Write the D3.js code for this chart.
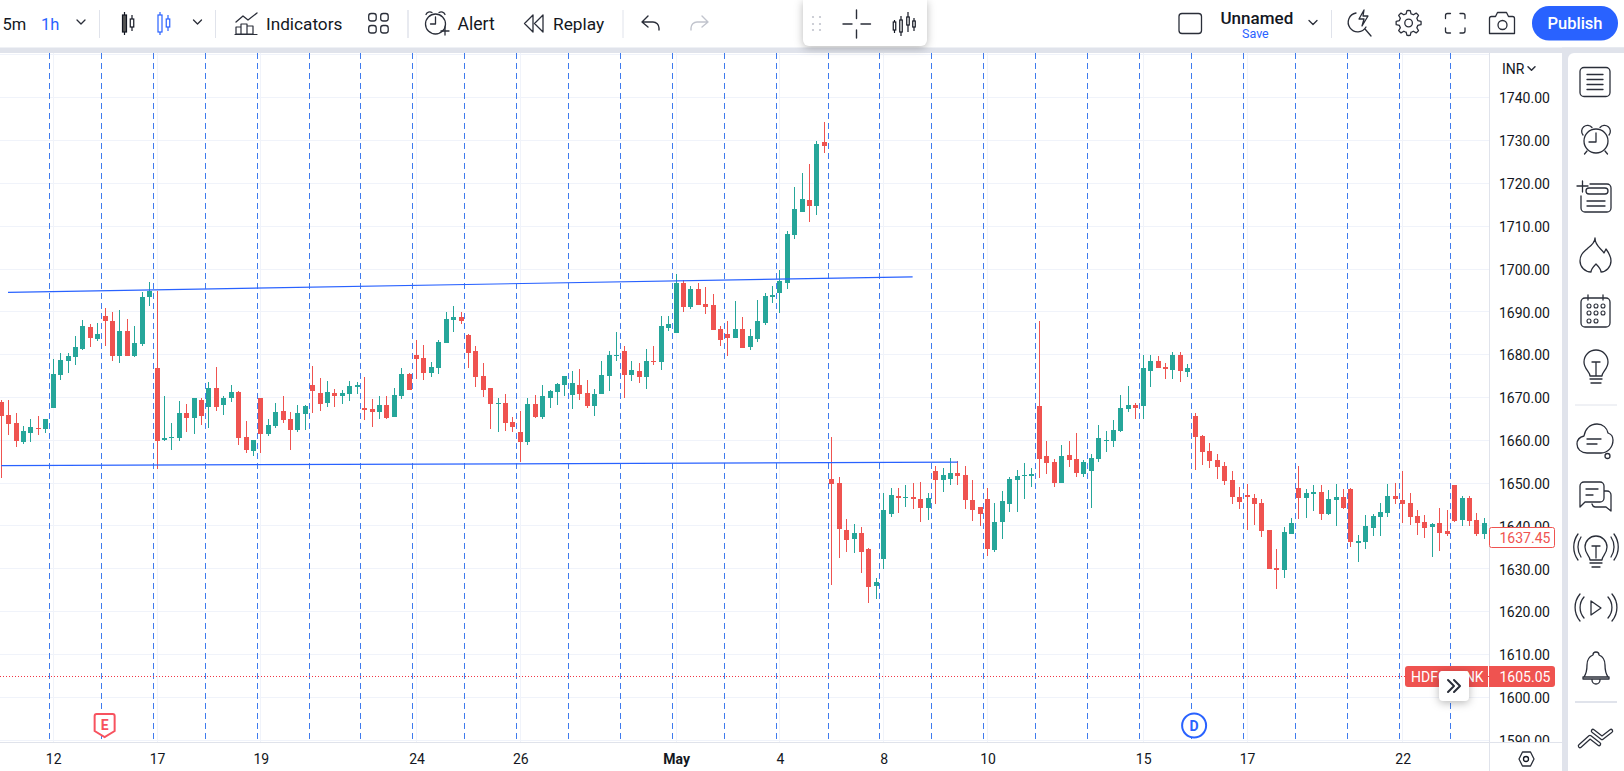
<!DOCTYPE html>
<html>
<head>
<meta charset="utf-8">
<script src="https://cdn.jsdelivr.net/npm/d3@7"></script>
<style>
	html, body { margin: 0; padding: 0; background: #fff; overflow: hidden; }
	svg { display: block; font-family: Roboto, sans-serif; }
	.float { filter: drop-shadow(0 2px 4px rgba(0,0,0,.28)); }
	.tick text { font-family: Roboto, sans-serif; }
</style>
</head>
<body>
<div id="vis1"></div>
<script>
const FRAME_HEIGHT = 771;
const FRAME_WIDTH = 1624;
const CHART = {left: 0, right: 1489, top: 53, bottom: 742};

// candles, one value per hourly bar
const OPENS = [
	1669.13,1666.1,1664.24,1659.81,1661.9,1663.07,1662.84,1667.73,1675.42,1678.69,
	1679.62,1681.49,1686.61,1683.82,1689.18,1688.01,1679.85,1685.68,1679.85,1682.65,
	1693.61,1677.06,1660.27,1660.74,1660.74,1666.57,1665.4,1669.6,1667.97,1672.39,
	1668.43,1670.06,1671.46,1660.97,1657.71,1670.06,1661.67,1663.54,1667.03,1665.17,
	1662.6,1666.33,1673.09,1671.23,1668.9,1671.23,1670.53,1671.0,1672.63,1667.73,
	1667.5,1666.8,1668.43,1665.63,1670.53,1675.66,1680.09,1679.39,1675.89,1677.06,
	1682.88,1688.25,1688.94,1684.75,1681.02,1675.19,1672.39,1668.67,1668.9,1664.47,
	1662.14,1659.81,1668.67,1665.63,1670.06,1671.46,1673.09,1670.76,1673.09,1671.23,
	1668.2,1671.0,1675.19,1679.85,1681.02,1675.42,1676.36,1674.96,1678.69,1678.45,
	1686.38,1685.21,1696.87,1691.28,1695.47,1691.97,1691.74,1686.15,1684.98,1684.05,
	1686.15,1681.95,1683.82,1687.55,1693.61,1694.54,1696.87,1708.06,1713.42,1716.22,
	1714.82,1729.74,1651.18,1650.25,1639.29,1637.2,1638.59,1634.87,1626.24,1632.53,
	1643.02,1647.22,1646.75,1646.99,1646.52,1644.42,1653.05,1650.95,1651.18,1652.58,
	1652.11,1646.29,1644.66,1646.52,1634.63,1641.16,1645.35,1650.95,1651.88,1651.88,
	1668.2,1656.54,1655.14,1650.25,1656.78,1655.84,1652.35,1653.05,1655.84,1660.04,
	1660.04,1662.37,1667.5,1668.43,1668.2,1676.36,1678.69,1677.29,1676.59,1680.09,
	1676.12,1665.87,1661.21,1657.71,1655.61,1654.21,1650.95,1646.99,1647.45,1646.75,
	1645.59,1639.29,1630.44,1629.97,1638.36,1649.08,1646.75,1647.69,1648.15,1643.02,
	1646.29,1646.99,1648.85,1636.26,1636.5,1639.76,1642.32,1643.26,1647.22,1646.29,
	1645.59,1642.56,1641.16,1640.0,1640.93,1639.06,1649.78,1641.63,1646.75,1641.63,
	1638.36];
const HIGHS = [
	1669.6,1669.6,1666.57,1663.54,1665.17,1665.87,1665.17,1679.15,1680.55,1680.55,
	1684.52,1688.25,1687.31,1687.55,1691.04,1690.11,1690.58,1688.48,1686.85,1694.77,
	1697.1,1695.0,1670.53,1664.24,1669.36,1668.67,1670.06,1670.06,1673.79,1677.29,
	1670.53,1673.09,1671.69,1664.7,1660.27,1670.06,1665.17,1668.9,1670.53,1666.8,
	1668.43,1668.43,1677.52,1674.73,1674.03,1672.16,1671.93,1674.03,1673.79,1674.96,
	1669.83,1670.53,1670.53,1672.39,1677.06,1675.89,1683.58,1682.42,1678.45,1683.58,
	1690.11,1691.51,1690.11,1684.98,1682.18,1678.22,1672.39,1670.06,1671.0,1665.63,
	1667.03,1670.06,1670.76,1673.09,1671.93,1673.56,1675.19,1676.36,1676.82,1674.26,
	1672.16,1678.69,1681.02,1685.45,1682.18,1678.69,1678.22,1681.49,1682.18,1689.18,
	1689.18,1698.97,1697.57,1696.17,1696.87,1695.94,1694.31,1686.85,1688.01,1692.67,
	1688.94,1686.15,1692.91,1694.54,1696.17,1699.9,1708.99,1719.25,1722.51,1724.61,
	1729.97,1734.4,1660.97,1651.65,1641.86,1640.69,1640.0,1635.1,1628.11,1647.92,
	1649.08,1649.08,1649.78,1650.25,1650.48,1647.92,1654.21,1653.75,1656.08,1655.38,
	1654.21,1650.95,1644.66,1649.08,1645.59,1648.38,1651.65,1653.28,1654.91,1653.75,
	1688.01,1660.04,1655.84,1659.11,1660.04,1661.9,1655.61,1657.01,1663.77,1662.37,
	1664.94,1670.76,1672.86,1668.9,1680.09,1680.09,1679.85,1678.22,1680.79,1680.79,
	1677.99,1666.57,1661.44,1659.57,1657.01,1655.14,1653.05,1649.32,1650.02,1647.69,
	1646.52,1639.29,1634.87,1640.0,1642.09,1654.21,1648.85,1649.78,1649.78,1648.62,
	1650.02,1648.85,1649.08,1638.13,1642.79,1643.02,1645.59,1650.02,1650.25,1653.05,
	1647.92,1643.96,1642.79,1640.93,1644.42,1643.96,1649.78,1647.22,1647.22,1643.26,
	1642.09];
const LOWS = [
	1651.42,1661.44,1658.64,1659.34,1659.81,1661.44,1661.9,1667.73,1674.26,1675.89,
	1677.76,1681.25,1681.95,1683.35,1682.18,1678.69,1678.22,1679.85,1679.62,1682.18,
	1691.51,1653.51,1660.04,1657.94,1660.04,1662.14,1661.67,1663.77,1663.07,1667.03,
	1666.1,1669.13,1659.11,1657.24,1656.54,1657.24,1661.21,1663.07,1664.24,1657.94,
	1662.14,1662.6,1666.57,1667.03,1667.97,1667.97,1668.67,1669.36,1671.0,1664.94,
	1663.3,1665.17,1665.17,1665.63,1669.83,1671.93,1674.49,1674.26,1674.96,1675.66,
	1682.88,1685.45,1687.31,1677.06,1672.63,1670.3,1662.84,1662.14,1662.37,1662.14,
	1655.14,1659.11,1665.4,1665.17,1667.73,1668.43,1670.53,1667.5,1669.6,1667.73,
	1665.87,1671.0,1671.69,1678.69,1670.06,1674.03,1673.56,1672.16,1677.76,1676.59,
	1685.68,1685.21,1690.11,1690.81,1691.74,1689.64,1685.91,1682.18,1679.85,1684.05,
	1681.72,1681.25,1683.12,1687.08,1692.21,1689.88,1695.47,1707.13,1713.42,1711.09,
	1712.72,1727.17,1626.47,1632.77,1634.17,1633.93,1629.27,1622.28,1623.21,1630.2,
	1642.32,1643.26,1644.66,1644.19,1641.16,1641.63,1645.35,1648.15,1649.78,1649.78,
	1644.19,1641.39,1640.23,1633.23,1634.17,1637.2,1643.49,1643.49,1646.52,1649.32,
	1651.42,1652.35,1649.32,1650.25,1653.98,1651.65,1651.65,1644.42,1655.14,1657.48,
	1658.64,1662.14,1666.8,1665.17,1665.17,1672.63,1677.06,1674.49,1674.49,1673.79,
	1674.96,1653.28,1654.45,1653.75,1651.18,1649.78,1645.35,1644.19,1639.29,1640.46,
	1637.66,1630.2,1625.54,1628.11,1638.36,1641.86,1642.09,1643.72,1641.63,1642.79,
	1640.23,1644.19,1635.33,1631.83,1634.87,1637.9,1637.9,1642.32,1645.35,1640.93,
	1640.46,1638.13,1637.43,1633.0,1634.4,1637.9,1641.16,1640.23,1640.23,1637.9,
	1637.2];
const CLOSES = [
	1665.87,1664.0,1660.04,1662.37,1663.3,1662.84,1665.17,1675.66,1678.92,1679.85,
	1681.95,1686.85,1684.05,1684.98,1688.01,1679.85,1685.68,1679.85,1682.88,1693.61,
	1695.0,1660.04,1660.74,1660.97,1666.57,1665.4,1670.06,1665.87,1672.39,1667.97,
	1670.06,1671.46,1660.74,1657.94,1660.27,1661.67,1663.77,1666.8,1664.94,1662.6,
	1666.57,1668.2,1671.69,1668.67,1671.46,1670.53,1671.23,1672.86,1673.09,1667.27,
	1666.8,1668.43,1665.4,1670.76,1675.66,1671.93,1679.15,1675.89,1677.29,1683.12,
	1688.48,1688.94,1688.01,1680.55,1674.96,1671.93,1668.67,1668.9,1664.24,1663.3,
	1659.81,1668.67,1665.63,1670.53,1671.69,1673.33,1675.19,1673.56,1671.0,1668.2,
	1671.0,1675.42,1680.09,1680.09,1675.42,1676.59,1674.96,1678.69,1678.45,1686.85,
	1687.31,1696.87,1691.28,1695.47,1691.74,1691.28,1685.91,1683.58,1684.05,1686.15,
	1681.72,1684.52,1688.01,1693.84,1694.07,1697.34,1708.29,1714.12,1716.45,1714.82,
	1729.27,1728.8,1650.02,1639.53,1636.96,1638.59,1634.17,1626.01,1627.17,1643.96,
	1647.45,1646.75,1646.99,1646.52,1644.42,1646.75,1650.95,1652.11,1652.58,1651.88,
	1646.29,1643.96,1643.02,1634.87,1641.16,1646.05,1651.18,1651.88,1652.11,1652.35,
	1655.84,1654.91,1650.25,1656.54,1655.61,1652.58,1655.14,1656.08,1660.74,1660.27,
	1662.6,1667.73,1668.43,1667.73,1677.06,1678.69,1677.06,1676.82,1680.09,1676.36,
	1677.06,1660.97,1657.48,1655.38,1653.98,1650.72,1646.99,1645.82,1646.99,1645.35,
	1639.06,1630.2,1629.97,1638.83,1640.93,1646.75,1647.92,1648.15,1643.02,1646.52,
	1646.99,1644.42,1636.5,1636.73,1640.23,1642.56,1643.49,1647.22,1646.52,1645.35,
	1642.32,1640.93,1639.76,1640.69,1638.59,1638.36,1641.39,1646.75,1641.39,1638.36,
	1640.93];

const PRICE_TICKS = [1740,1730,1720,1710,1700,1690,1680,1670,1660,1650,1640,1630,1620,1610,1600,1590];
const GRID_PRICES = [1750].concat(PRICE_TICKS);
const TIME_TICK_BARS = [7,21,35,56,70,91,105,119,133,154,168,189];
const TIME_TICK_LABELS = ["12","17","19","24","26","May","4","8","10","15","17","22"];
const SESSION_BREAKS = d3.range(6.5, 201, 7);

// the two drawn trend lines, [bar, price]
const UPPER_TREND = [[0.9, 1694.7], [122.9, 1698.3]];
const LOWER_TREND = [[0, 1654.3], [129, 1655.1]];

const LAST_PRICE = 1605.05;
const MARKER_PRICE = 1637.45;
const EARNINGS_BAR = 14;
const DIVIDEND_BAR = 161;

const GREEN = "#26a69a";
const RED = "#ef5350";
const BLUE = "#2962ff";
const DARK = "#131722";
const LINE = "#e0e3eb";

const FRAME = d3.select("#vis1")
	.append("svg")
		.attr("width", FRAME_WIDTH)
		.attr("height", FRAME_HEIGHT);

const X_SCALE = d3.scaleLinear().domain([0, 200]).range([1.33, 1484.3]);
const Y_SCALE = d3.scaleLinear().domain([1590, 1740]).range([741.47, 97.97]);
// grid and price labels sit on a slightly tighter spacing than the candles were read at
const AXIS_SCALE = d3.scaleLinear().domain([1600, 1740]).range([697.3, 97.7]);
const snap = (x) => Math.floor(x) + 0.5;

const defs = FRAME.append("defs");
defs.append("clipPath").attr("id", "axisClipY")
	.append("rect").attr("x", 1490).attr("y", 53).attr("width", 72).attr("height", 689);

// page background bands
FRAME.append("rect").attr("x", 0).attr("y", 47.5).attr("width", FRAME_WIDTH).attr("height", 5.5).attr("fill", LINE);
FRAME.append("rect").attr("x", 1562).attr("y", 47.5).attr("width", 62).attr("height", 724).attr("fill", LINE);
FRAME.append("path").attr("fill", "#fff").attr("d", "M1555 53h1a6 6 0 0 1 6 6v712h-7z");
FRAME.append("path").attr("fill", "#fff").attr("d", "M1624 53h-50a6 6 0 0 0-6 6v712h56z");

// grid
const grid = FRAME.append("g").attr("stroke", "#f0f3fa").attr("stroke-width", 1);
grid.selectAll("line.h")
	.data(GRID_PRICES)
	.enter()
	.append("line")
		.attr("class", "h")
		.attr("x1", CHART.left)
		.attr("x2", CHART.right)
		.attr("y1", (d) => snap(AXIS_SCALE(d)))
		.attr("y2", (d) => snap(AXIS_SCALE(d)));
grid.selectAll("line.v")
	.data(TIME_TICK_BARS)
	.enter()
	.append("line")
		.attr("class", "v")
		.attr("x1", (d) => snap(X_SCALE(d)))
		.attr("x2", (d) => snap(X_SCALE(d)))
		.attr("y1", CHART.top)
		.attr("y2", CHART.bottom);

// session break lines
FRAME.append("g").selectAll("line")
	.data(SESSION_BREAKS)
	.enter()
	.append("line")
		.attr("x1", (d) => snap(X_SCALE(d)))
		.attr("x2", (d) => snap(X_SCALE(d)))
		.attr("y1", CHART.top)
		.attr("y2", CHART.bottom)
		.attr("stroke", "#3f7bee")
		.attr("stroke-dasharray", "6,4");

// last price dotted line
FRAME.append("line")
	.attr("x1", CHART.left)
	.attr("x2", CHART.right)
	.attr("y1", 676.5)
	.attr("y2", 676.5)
	.attr("stroke", "#f23645")
	.attr("stroke-dasharray", "1,2");

// candles
const candles = FRAME.append("g").attr("shape-rendering", "crispEdges");
const bars = OPENS.map((d, i) => i);
const barColor = (i) => CLOSES[i] >= OPENS[i] ? GREEN : RED;

candles.selectAll("rect.wick")
	.data(bars)
	.enter()
	.append("rect")
		.attr("class", "wick")
		.attr("x", (i) => Math.floor(X_SCALE(i)))
		.attr("y", (i) => Math.round(Y_SCALE(HIGHS[i])))
		.attr("width", 1)
		.attr("height", (i) => Math.round(Y_SCALE(LOWS[i])) - Math.round(Y_SCALE(HIGHS[i])))
		.attr("fill", barColor);

candles.selectAll("rect.body")
	.data(bars)
	.enter()
	.append("rect")
		.attr("class", "body")
		.attr("x", (i) => Math.floor(X_SCALE(i)) - 2)
		.attr("y", (i) => Math.round(Y_SCALE(Math.max(OPENS[i], CLOSES[i]))))
		.attr("width", 5)
		.attr("height", (i) => Math.round(Y_SCALE(Math.min(OPENS[i], CLOSES[i]))) - Math.round(Y_SCALE(Math.max(OPENS[i], CLOSES[i]))))
		.attr("fill", barColor);

// trend lines
const trendLine = d3.line().x((d) => X_SCALE(d[0])).y((d) => Y_SCALE(d[1]));
FRAME.selectAll("path.trend")
	.data([UPPER_TREND, LOWER_TREND])
	.enter()
	.append("path")
		.attr("class", "trend")
		.attr("d", trendLine)
		.attr("fill", "none")
		.attr("stroke", BLUE)
		.attr("stroke-width", 1.2);

// earnings and dividend badges
const eX = X_SCALE(EARNINGS_BAR) - 0.5;
FRAME.append("path")
	.attr("d", `M${eX - 10} 716a2 2 0 0 1 2-2h16a2 2 0 0 1 2 2v15l-10 6l-10-6z`)
	.attr("fill", "#fff")
	.attr("stroke", "#f7525f")
	.attr("stroke-width", 2);
FRAME.append("text")
	.attr("x", eX)
	.attr("y", 730)
	.attr("text-anchor", "middle")
	.attr("font-size", 14)
	.attr("font-weight", 700)
	.attr("fill", "#f7525f")
	.text("E");
const dX = X_SCALE(DIVIDEND_BAR) - 1;
FRAME.append("circle")
	.attr("cx", dX)
	.attr("cy", 725.5)
	.attr("r", 12)
	.attr("fill", "#fff")
	.attr("stroke", BLUE)
	.attr("stroke-width", 2);
FRAME.append("text")
	.attr("x", dX)
	.attr("y", 730.5)
	.attr("text-anchor", "middle")
	.attr("font-size", 14)
	.attr("font-weight", 700)
	.attr("fill", BLUE)
	.text("D");

// axes
const y_axis = d3.axisRight(AXIS_SCALE)
	.tickValues(PRICE_TICKS)
	.tickSize(0)
	.tickPadding(10)
	.tickFormat((d) => d.toFixed(2));
const yG = FRAME.append("g").attr("clip-path", "url(#axisClipY)");
yG.append("g")
	.attr("transform", "translate(1489,0.8)")
	.call(y_axis)
	.call((g) => g.select(".domain").remove())
	.selectAll("text")
		.attr("font-size", 14)
		.attr("fill", DARK);

const x_axis = d3.axisBottom(X_SCALE)
	.tickValues(TIME_TICK_BARS)
	.tickSize(0)
	.tickPadding(0)
	.tickFormat((d, i) => TIME_TICK_LABELS[i]);
FRAME.append("g")
	.attr("transform", "translate(0,754.5)")
	.call(x_axis)
	.call((g) => g.select(".domain").remove())
	.selectAll("text")
		.attr("font-size", 14)
		.attr("font-weight", (d, i) => TIME_TICK_LABELS[i] == "May" ? 700 : 400)
		.attr("fill", DARK);

FRAME.append("line").attr("x1", 0).attr("x2", 1562).attr("y1", 742.5).attr("y2", 742.5).attr("stroke", LINE);
FRAME.append("line").attr("x1", 1489.5).attr("x2", 1489.5).attr("y1", 53).attr("y2", 771).attr("stroke", LINE);

FRAME.append("text").attr("x", 1502).attr("y", 74).attr("font-size", 14).attr("fill", DARK).text("INR");
chevron(1531.5, 68.5, 3.5, 1.5);

// price labels
FRAME.append("rect").attr("x", 1489.5).attr("y", 527.5).attr("width", 65).attr("height", 20).attr("rx", 2)
	.attr("fill", "#fff").attr("stroke", RED);
FRAME.append("text").attr("x", 1499.5).attr("y", 542.5).attr("font-size", 14).attr("fill", RED)
	.text(MARKER_PRICE.toFixed(2));
FRAME.append("path").attr("fill", RED).attr("d", "M1408 666h80v21h-80a3 3 0 0 1-3-3v-15a3 3 0 0 1 3-3z");
FRAME.append("path").attr("fill", RED).attr("d", "M1489 666h63a3 3 0 0 1 3 3v15a3 3 0 0 1-3 3h-63z");
FRAME.append("text").attr("x", 1411).attr("y", 681.5).attr("font-size", 14).attr("fill", "#fff").text("HDFCBANK");
FRAME.append("text").attr("x", 1499.5).attr("y", 681.5).attr("font-size", 14).attr("fill", "#fff")
	.text(LAST_PRICE.toFixed(2));
FRAME.append("rect").attr("class", "float").attr("x", 1439).attr("y", 671).attr("width", 30).attr("height", 30).attr("rx", 4).attr("fill", "#fff");
stroke("M1448 680l6 6l-6 6M1454 680l6 6l-6 6", 2);

// settings hexagon under the price axis
stroke("M1519 759l3.5-7h8l3.5 7l-3.5 7h-8z", 1.3);
FRAME.append("circle").attr("cx", 1526).attr("cy", 759).attr("r", 2.5).attr("fill", "none").attr("stroke", DARK).attr("stroke-width", 1.3);

// helpers for the toolbar icons
function stroke(d, w, color) {
	return FRAME.append("path")
		.attr("d", d)
		.attr("fill", "none")
		.attr("stroke", color || "#2a2e39")
		.attr("stroke-width", w || 1.3)
		.attr("stroke-linecap", "round")
		.attr("stroke-linejoin", "round");
}
function chevron(x, y, r, w) {
	stroke(`M${x - r} ${y - r / 2}l${r} ${r}l${r} ${-r}`, w || 1.3);
}
function label(x, y, text, size, color, weight) {
	FRAME.append("text").attr("x", x).attr("y", y).attr("font-size", size).attr("fill", color || DARK)
		.attr("font-weight", weight || 400).text(text);
}
function ring(x, y, r, w) {
	FRAME.append("circle").attr("cx", x).attr("cy", y).attr("r", r).attr("fill", "none")
		.attr("stroke", "#2a2e39").attr("stroke-width", w || 1.3);
}
function sep(x, y1, y2, w) {
	FRAME.append("line").attr("x1", x).attr("x2", x).attr("y1", y1).attr("y2", y2).attr("stroke", LINE).attr("stroke-width", w || 1);
}
function toolCandle(x, y1, y2, b1, b2, w, color, fill) {
	FRAME.append("line").attr("x1", x).attr("x2", x).attr("y1", y1).attr("y2", y2).attr("stroke", color).attr("stroke-width", 1.2);
	FRAME.append("rect").attr("x", x - w / 2).attr("y", b1).attr("width", w).attr("height", b2 - b1)
		.attr("fill", fill).attr("stroke", color).attr("stroke-width", 1.2);
}

// top toolbar, left side
label(2.5, 29.5, "5m", 16.5);
label(41, 29.5, "1h", 16.5, BLUE);
chevron(81, 22, 4);
sep(99.5, 10, 38);
toolCandle(124.5, 12, 35, 15, 32, 4, DARK, "#555");
toolCandle(132, 15, 31, 19, 27, 3.5, DARK, "#fff");
toolCandle(160, 12, 35, 15, 32, 4, BLUE, "#fff");
toolCandle(168, 15, 31, 19, 27, 3.5, BLUE, "#fff");
chevron(197.5, 22, 4);
sep(215.5, 10, 38);
stroke("M236 22l7-6l5 4l9-7", 1.3);
stroke("M236 34v-7h5v7zM241 34v-10h6v10zM247 34v-8h6v8zM235 34.5h22", 1.2);
label(266, 29.5, "Indicators", 17.2);
[[368.7, 13.5], [380.7, 13.5], [368.7, 25.5], [380.7, 25.5]].forEach((p) => {
	FRAME.append("rect").attr("x", p[0]).attr("y", p[1]).attr("width", 7.5).attr("height", 7.5).attr("rx", 2.5)
		.attr("fill", "none").attr("stroke", "#2a2e39").attr("stroke-width", 1.3);
});
sep(408, 10, 38, 1.5);
ring(435.5, 24, 10);
stroke("M435.5 17v7h-5M426 14.5a4 4 0 0 1 6-2M445 14.5a4 4 0 0 0-6-2M445 27v8M441 31h8", 1.3);
label(457.5, 29.5, "Alert", 17.6);
stroke("M533 15l-8.5 8.5l8.5 8.5zM543 15l-8.5 8.5l8.5 8.5z", 1.3);
label(553, 29.5, "Replay", 17.3);
sep(623, 10, 38);
stroke("M648 16l-6 6l6 5M642 22h11a6 6 0 0 1 6 6v2", 1.4);
stroke("M702 16l6 6l-6 5M708 22h-11a6 6 0 0 0-6 6v2", 1.4, "#c1c4cd");

// floating drawing panel
FRAME.append("path").attr("class", "float").attr("fill", "#fff").attr("d", "M803 0h124v40a6 6 0 0 1-6 6h-112a6 6 0 0 1-6-6z");
FRAME.selectAll("circle.grip")
	.data([[813, 17], [820, 17], [813, 24], [820, 24], [813, 30], [820, 30]])
	.enter()
	.append("circle")
		.attr("class", "grip")
		.attr("cx", (d) => d[0])
		.attr("cy", (d) => d[1])
		.attr("r", 1.1)
		.attr("fill", "#c1c4cd");
stroke("M843 24h9M861 24h9.5M856.5 10v8.5M856.5 30v8", 1.4);
toolCandle(894.5, 20, 33, 22, 30, 2.5, DARK, "#fff");
toolCandle(901, 16, 36, 20, 32, 2.5, DARK, "#fff");
toolCandle(908, 12, 32, 17, 25, 2.5, DARK, "#fff");
toolCandle(914, 18, 31, 21, 27, 2.5, DARK, "#fff");

// top toolbar, right side
FRAME.append("rect").attr("x", 1179).attr("y", 13.5).attr("width", 22.5).attr("height", 20).attr("rx", 3)
	.attr("fill", "none").attr("stroke", "#2a2e39").attr("stroke-width", 1.3);
label(1220.5, 24, "Unnamed", 17, DARK, 500);
label(1242, 38, "Save", 12.5, BLUE);
chevron(1313, 22.5, 4);
sep(1331.5, 10, 38);
stroke("M1356 13a9.5 9.5 0 1 0 10 14M1365 29l6 7M1364 10l-5 9h5l-2 7l6-10h-5z", 1.3);
const GEAR = d3.range(48).map((k) => {
	const a = k / 48 * 2 * Math.PI;
	const r = (k + 1) % 6 < 3 ? 12.5 : 9.5;
	return [1408.6 + r * Math.cos(a), 23 + r * Math.sin(a)];
});
stroke(d3.line().curve(d3.curveLinearClosed)(GEAR), 1.3);
ring(1408.6, 23, 3.8);
stroke("M1445.5 18.5v-3a2 2 0 0 1 2-2h3M1460 13.5h3a2 2 0 0 1 2 2v3M1465 28v3a2 2 0 0 1-2 2h-3M1450.5 33h-3a2 2 0 0 1-2-2v-3", 1.3);
stroke("M1489.5 33.5v-15a2 2 0 0 1 2-2h4l2-4h9l2 4h4a2 2 0 0 1 2 2v15z", 1.3);
ring(1502.5, 25, 4.5);
FRAME.append("rect").attr("x", 1532).attr("y", 6).attr("width", 86).attr("height", 34.5).attr("rx", 17).attr("fill", BLUE);
FRAME.append("text").attr("x", 1575).attr("y", 29).attr("text-anchor", "middle").attr("font-size", 16.5).attr("font-weight", 500).attr("fill", "#fff").text("Publish");

// right side panel icons
stroke("M1584 67.5h22a4 4 0 0 1 4 4v21a4 4 0 0 1-4 4h-22a4 4 0 0 1-4-4v-21a4 4 0 0 1 4-4zM1587 74.5h16M1587 79.5h16M1587 84.5h16M1587 89.5h16", 1.3);
ring(1596, 141, 12);
stroke("M1596 133v9h-7M1583 135a5.5 5.5 0 0 1 9-7.5M1609 135a5.5 5.5 0 0 0-9-7.5M1587 151l-2.5 3M1605 151l2.5 3", 1.3);
stroke("M1577 186h11M1582.5 181v11M1590 184h17a4 4 0 0 1 4 4v20a4 4 0 0 1-4 4h-22a4 4 0 0 1-4-4v-12M1589 188h16a2.5 2.5 0 0 1 0 6h-16a2.5 2.5 0 0 1 0-6zM1587 201h18M1587 206h18", 1.3);
stroke("M1595 238c0 8 6 10 9 15l2-4c3 4 5 8 5 12c0 6-5 11-10 11c0-3-3-6-5-8c-2 2-5 5-5 8c-6 0-11-5-11-11c0-7 4-9 8-13c4-3 7-6 7-10z", 1.3);
stroke("M1585 298h21a4 4 0 0 1 4 4v21a4 4 0 0 1-4 4h-21a4 4 0 0 1-4-4v-21a4 4 0 0 1 4-4zM1588 295v5M1603 295v5", 1.3);
[[1589, 306], [1596, 306], [1603, 306], [1589, 313], [1596, 313], [1603, 313], [1589, 321], [1596, 321]].forEach((p) => ring(p[0], p[1], 2, 1.1));
stroke("M1590 376c0-4-6-7-6-14a12 12 0 0 1 24 0c0 7-6 10-6 14zM1590 379h12M1591 383h10M1596 376v-14M1592 362h8", 1.3);
FRAME.append("line").attr("x1", 1575).attr("x2", 1617).attr("y1", 405).attr("y2", 405).attr("stroke", LINE);
stroke("M1587 453c-6 0-10-4-10-9c0-4 3-7 7-8c1-7 6-12 13-12c6 0 10 4 11 9c3 1 5 4 5 7c0 7-5 13-12 13zM1587 439h14M1587 444h10", 1.3);
ring(1607.5, 456, 2.5);
stroke("M1584 482h16a4 4 0 0 1 4 4v12a4 4 0 0 1-4 4h-15l-5 5v-21a4 4 0 0 1 4-4zM1586 489h12M1586 495h7M1604 491h3a4 4 0 0 1 4 4v16l-5-4h-11a4 4 0 0 1-3-3", 1.3);
stroke("M1590 560c0-4-5-6-5-13a11 11 0 0 1 22 0c0 7-5 9-5 13zM1590 563h12M1592 567h8M1596 558v-12M1592 546h8M1581 537a18 18 0 0 0 0 20M1578 534a22 22 0 0 0 0 26M1611 537a18 18 0 0 1 0 20M1614 534a22 22 0 0 1 0 26", 1.3);
stroke("M1591 601l10 7l-10 7zM1584 597a16 16 0 0 0 0 21M1580 594a21 21 0 0 0 0 27M1608 597a16 16 0 0 1 0 21M1612 594a21 21 0 0 1 0 27", 1.3);
stroke("M1596 652a3 3 0 0 1 3 3c5 2 6 6 6 10c0 5 1 9 3 12h-24c2-3 3-7 3-12c0-4 1-8 6-10a3 3 0 0 1 3-3zM1583 677h26v2h-26zM1592 680a4 4 0 0 0 8 0", 1.3);
FRAME.append("line").attr("x1", 1575).attr("x2", 1617).attr("y1", 702).attr("y2", 702).attr("stroke", LINE).attr("stroke-width", 2);
stroke("M1580 746l10-9l9 7", 4.5);
stroke("M1580 746l10-9l9 7", 2, "#fff");
stroke("M1593 731l9 7l9-7", 4.5);
stroke("M1593 731l9 7l9-7", 2, "#fff");
</script>
</body>
</html>
